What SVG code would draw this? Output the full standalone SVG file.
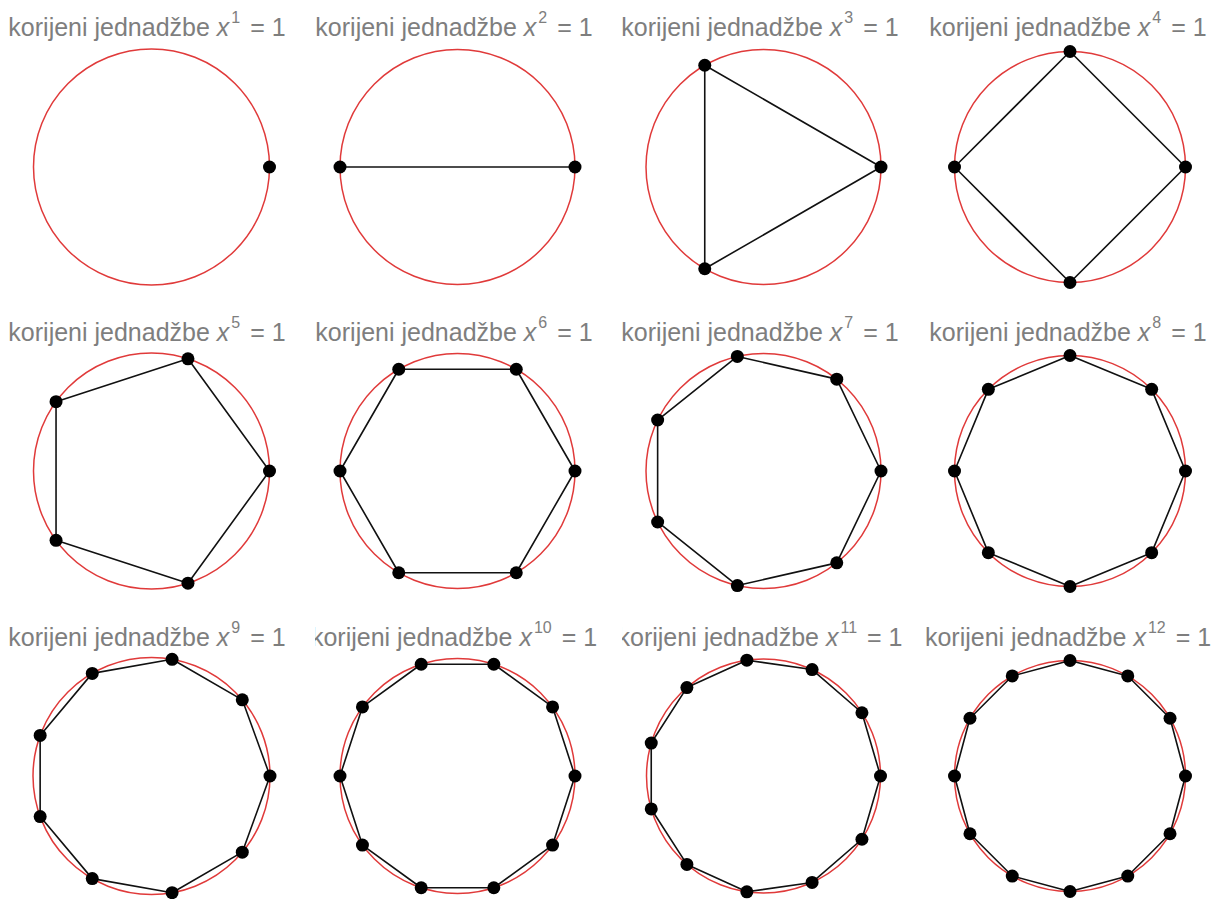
<svg xmlns="http://www.w3.org/2000/svg" width="1220" height="899" viewBox="0 0 1220 899">
<style>
.bg{fill:#fff}
.t{font-family:"Liberation Sans",Arial,sans-serif;font-size:25px;fill:#7e7e7e;text-anchor:middle}
.x{font-style:italic}
.sup{font-size:16px}
.ring{fill:none;stroke:#e03a3a;stroke-width:1.5}
.edge{fill:none;stroke:#111;stroke-width:1.6;stroke-linejoin:round}
.dot{fill:#000}
</style>
<defs>
<clipPath id="c10"><rect x="315" y="600" width="300" height="60"/></clipPath>
<clipPath id="c11"><rect x="622" y="600" width="300" height="60"/></clipPath>
</defs>
<rect class="bg" x="0" y="0" width="1220" height="899"/>

<g id="titles">
<text class="t" x="147" y="36">korijeni jednadžbe <tspan class="x">x</tspan><tspan class="sup" dx="2" dy="-13">1</tspan><tspan dx="3" dy="13"> = 1</tspan></text>
<text class="t" x="454" y="36">korijeni jednadžbe <tspan class="x">x</tspan><tspan class="sup" dx="2" dy="-13">2</tspan><tspan dx="3" dy="13"> = 1</tspan></text>
<text class="t" x="760" y="36">korijeni jednadžbe <tspan class="x">x</tspan><tspan class="sup" dx="2" dy="-13">3</tspan><tspan dx="3" dy="13"> = 1</tspan></text>
<text class="t" x="1068" y="36">korijeni jednadžbe <tspan class="x">x</tspan><tspan class="sup" dx="2" dy="-13">4</tspan><tspan dx="3" dy="13"> = 1</tspan></text>
<text class="t" x="147" y="341">korijeni jednadžbe <tspan class="x">x</tspan><tspan class="sup" dx="2" dy="-13">5</tspan><tspan dx="3" dy="13"> = 1</tspan></text>
<text class="t" x="454" y="341">korijeni jednadžbe <tspan class="x">x</tspan><tspan class="sup" dx="2" dy="-13">6</tspan><tspan dx="3" dy="13"> = 1</tspan></text>
<text class="t" x="760" y="341">korijeni jednadžbe <tspan class="x">x</tspan><tspan class="sup" dx="2" dy="-13">7</tspan><tspan dx="3" dy="13"> = 1</tspan></text>
<text class="t" x="1068" y="341">korijeni jednadžbe <tspan class="x">x</tspan><tspan class="sup" dx="2" dy="-13">8</tspan><tspan dx="3" dy="13"> = 1</tspan></text>
<text class="t" x="147" y="646">korijeni jednadžbe <tspan class="x">x</tspan><tspan class="sup" dx="2" dy="-13">9</tspan><tspan dx="3" dy="13"> = 1</tspan></text>
<text class="t" x="454" y="646" clip-path="url(#c10)">korijeni jednadžbe <tspan class="x">x</tspan><tspan class="sup" dx="2" dy="-13">10</tspan><tspan dx="3" dy="13"> = 1</tspan></text>
<text class="t" x="760" y="646" clip-path="url(#c11)">korijeni jednadžbe <tspan class="x">x</tspan><tspan class="sup" dx="2" dy="-13">11</tspan><tspan dx="3" dy="13"> = 1</tspan></text>
<text class="t" x="1068" y="646">korijeni jednadžbe <tspan class="x">x</tspan><tspan class="sup" dx="2" dy="-13">12</tspan><tspan dx="3" dy="13"> = 1</tspan></text>
</g>

<g id="circles">
<circle class="ring" cx="151.5" cy="167" r="118"/>
<circle class="ring" cx="457.5" cy="167" r="117.5"/>
<circle class="ring" cx="763.5" cy="167" r="117.5"/>
<circle class="ring" cx="1070" cy="167" r="115.5"/>
<circle class="ring" cx="151.5" cy="471" r="118"/>
<circle class="ring" cx="457.5" cy="471" r="117.5"/>
<circle class="ring" cx="763.5" cy="471" r="117.5"/>
<circle class="ring" cx="1070" cy="471" r="115.5"/>
<circle class="ring" cx="151.5" cy="776" r="118.5"/>
<circle class="ring" cx="457.5" cy="776" r="117.5"/>
<circle class="ring" cx="763.5" cy="776" r="117"/>
<circle class="ring" cx="1070" cy="776" r="115.5"/>
</g>

<g id="connectors">
<line class="edge" x1="340" y1="167" x2="575" y2="167"/>
<polygon class="edge" points="881,167 704.75,65.24 704.75,268.76"/>
<polygon class="edge" points="1185.5,167 1070,51.5 954.5,167 1070,282.5"/>
<polygon class="edge" points="269.5,471 187.96,358.78 56.04,401.64 56.04,540.36 187.96,583.22"/>
<polygon class="edge" points="575,471 516.25,369.24 398.75,369.24 340,471 398.75,572.76 516.25,572.76"/>
<polygon class="edge" points="881,471 836.76,379.13 737.35,356.45 657.64,420.02 657.64,521.98 737.35,585.55 836.76,562.87"/>
<polygon class="edge" points="1185.5,471 1151.67,389.33 1070,355.5 988.33,389.33 954.5,471 988.33,552.67 1070,586.5 1151.67,552.67"/>
<polygon class="edge" points="270,776 242.28,699.83 172.08,659.3 92.25,673.38 40.15,735.47 40.15,816.53 92.25,878.62 172.08,892.7 242.28,852.17"/>
<polygon class="edge" points="575,776 552.56,706.93 493.81,664.25 421.19,664.25 362.44,706.93 340,776 362.44,845.07 421.19,887.75 493.81,887.75 552.56,845.07"/>
<polygon class="edge" points="880.5,776 861.93,712.75 812.1,669.57 746.85,660.19 686.88,687.58 651.24,743.04 651.24,808.96 686.88,864.42 746.85,891.81 812.1,882.43 861.93,839.25"/>
<polygon class="edge" points="1185.5,776 1170.03,718.25 1127.75,675.97 1070,660.5 1012.25,675.97 969.97,718.25 954.5,776 969.97,833.75 1012.25,876.03 1070,891.5 1127.75,876.03 1170.03,833.75"/>
</g>

<g id="roots-1" class="dot"><circle cx="269.5" cy="167" r="6.5"/></g>
<g id="roots-2" class="dot"><circle cx="575" cy="167" r="6.5"/><circle cx="340" cy="167" r="6.5"/></g>
<g id="roots-3" class="dot"><circle cx="881" cy="167" r="6.5"/><circle cx="704.75" cy="65.24" r="6.5"/><circle cx="704.75" cy="268.76" r="6.5"/></g>
<g id="roots-4" class="dot"><circle cx="1185.5" cy="167" r="6.5"/><circle cx="1070" cy="51.5" r="6.5"/><circle cx="954.5" cy="167" r="6.5"/><circle cx="1070" cy="282.5" r="6.5"/></g>
<g id="roots-5" class="dot"><circle cx="269.5" cy="471" r="6.5"/><circle cx="187.96" cy="358.78" r="6.5"/><circle cx="56.04" cy="401.64" r="6.5"/><circle cx="56.04" cy="540.36" r="6.5"/><circle cx="187.96" cy="583.22" r="6.5"/></g>
<g id="roots-6" class="dot"><circle cx="575" cy="471" r="6.5"/><circle cx="516.25" cy="369.24" r="6.5"/><circle cx="398.75" cy="369.24" r="6.5"/><circle cx="340" cy="471" r="6.5"/><circle cx="398.75" cy="572.76" r="6.5"/><circle cx="516.25" cy="572.76" r="6.5"/></g>
<g id="roots-7" class="dot"><circle cx="881" cy="471" r="6.5"/><circle cx="836.76" cy="379.13" r="6.5"/><circle cx="737.35" cy="356.45" r="6.5"/><circle cx="657.64" cy="420.02" r="6.5"/><circle cx="657.64" cy="521.98" r="6.5"/><circle cx="737.35" cy="585.55" r="6.5"/><circle cx="836.76" cy="562.87" r="6.5"/></g>
<g id="roots-8" class="dot"><circle cx="1185.5" cy="471" r="6.5"/><circle cx="1151.67" cy="389.33" r="6.5"/><circle cx="1070" cy="355.5" r="6.5"/><circle cx="988.33" cy="389.33" r="6.5"/><circle cx="954.5" cy="471" r="6.5"/><circle cx="988.33" cy="552.67" r="6.5"/><circle cx="1070" cy="586.5" r="6.5"/><circle cx="1151.67" cy="552.67" r="6.5"/></g>
<g id="roots-9" class="dot"><circle cx="270" cy="776" r="6.5"/><circle cx="242.28" cy="699.83" r="6.5"/><circle cx="172.08" cy="659.3" r="6.5"/><circle cx="92.25" cy="673.38" r="6.5"/><circle cx="40.15" cy="735.47" r="6.5"/><circle cx="40.15" cy="816.53" r="6.5"/><circle cx="92.25" cy="878.62" r="6.5"/><circle cx="172.08" cy="892.7" r="6.5"/><circle cx="242.28" cy="852.17" r="6.5"/></g>
<g id="roots-10" class="dot"><circle cx="575" cy="776" r="6.5"/><circle cx="552.56" cy="706.93" r="6.5"/><circle cx="493.81" cy="664.25" r="6.5"/><circle cx="421.19" cy="664.25" r="6.5"/><circle cx="362.44" cy="706.93" r="6.5"/><circle cx="340" cy="776" r="6.5"/><circle cx="362.44" cy="845.07" r="6.5"/><circle cx="421.19" cy="887.75" r="6.5"/><circle cx="493.81" cy="887.75" r="6.5"/><circle cx="552.56" cy="845.07" r="6.5"/></g>
<g id="roots-11" class="dot"><circle cx="880.5" cy="776" r="6.5"/><circle cx="861.93" cy="712.75" r="6.5"/><circle cx="812.1" cy="669.57" r="6.5"/><circle cx="746.85" cy="660.19" r="6.5"/><circle cx="686.88" cy="687.58" r="6.5"/><circle cx="651.24" cy="743.04" r="6.5"/><circle cx="651.24" cy="808.96" r="6.5"/><circle cx="686.88" cy="864.42" r="6.5"/><circle cx="746.85" cy="891.81" r="6.5"/><circle cx="812.1" cy="882.43" r="6.5"/><circle cx="861.93" cy="839.25" r="6.5"/></g>
<g id="roots-12" class="dot"><circle cx="1185.5" cy="776" r="6.5"/><circle cx="1170.03" cy="718.25" r="6.5"/><circle cx="1127.75" cy="675.97" r="6.5"/><circle cx="1070" cy="660.5" r="6.5"/><circle cx="1012.25" cy="675.97" r="6.5"/><circle cx="969.97" cy="718.25" r="6.5"/><circle cx="954.5" cy="776" r="6.5"/><circle cx="969.97" cy="833.75" r="6.5"/><circle cx="1012.25" cy="876.03" r="6.5"/><circle cx="1070" cy="891.5" r="6.5"/><circle cx="1127.75" cy="876.03" r="6.5"/><circle cx="1170.03" cy="833.75" r="6.5"/></g>
</svg>
